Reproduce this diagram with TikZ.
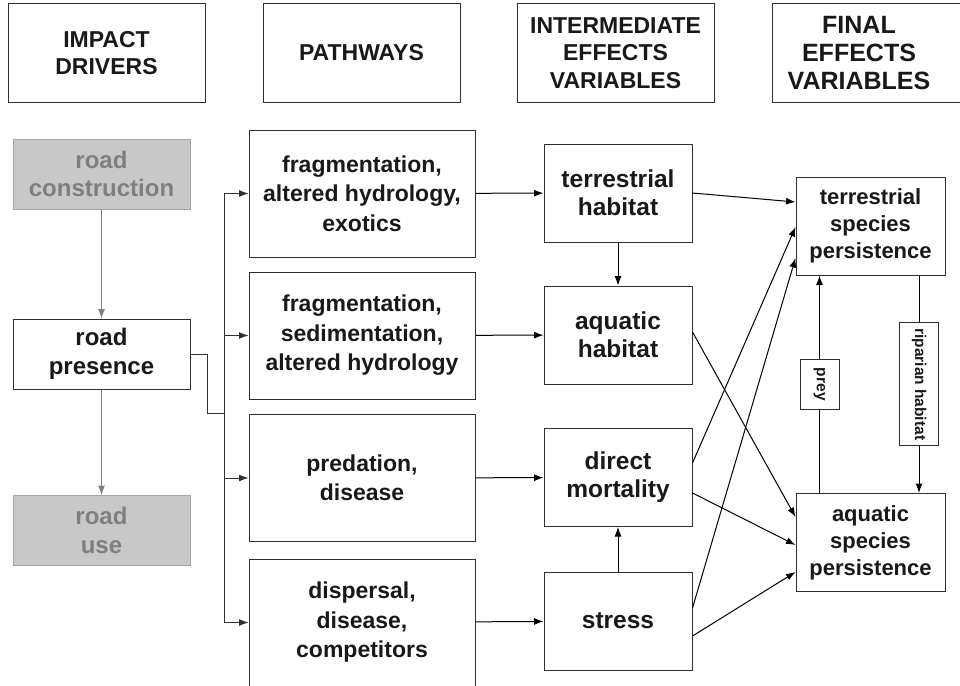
\documentclass[tikz,border=0pt]{standalone}
\usepackage{fontspec}
\setmainfont{Liberation Sans}
\usetikzlibrary{arrows.meta}
\definecolor{roadfill}{HTML}{C8C8C8}
\definecolor{roadtext}{HTML}{7F7F7F}
\definecolor{roadline}{HTML}{A6A6A6}
\definecolor{boxline}{HTML}{303030}

\begin{document}
\begin{tikzpicture}[x=1pt, y=-1pt, line width=1pt, >={Latex[length=9.5pt,width=7pt]}]
	\tikzstyle{box}    = [rectangle, draw=boxline, fill=white, inner sep=0pt, align=center,
	                      font=\fontsize{22}{27}\selectfont\bfseries, text=black!90]
	\tikzstyle{header} = [box, minimum height=98pt, font=\fontsize{23}{27.5}\selectfont\bfseries]
	\tikzstyle{road}   = [box, minimum width=177pt, minimum height=70pt, font=\fontsize{24}{28.5}\selectfont\bfseries]
	\tikzstyle{grey}   = [road, fill=roadfill, draw=roadline, text=roadtext]
	\tikzstyle{path}   = [box, minimum width=226pt, minimum height=127pt, font=\fontsize{23}{29.5}\selectfont\bfseries]
	\tikzstyle{inter}  = [box, minimum width=148pt, minimum height=98pt, font=\fontsize{24.5}{28}\selectfont\bfseries]
	\tikzstyle{final}  = [box, minimum width=149pt, minimum height=98pt]
	\tikzstyle{tag}    = [box, rotate=-90, minimum height=39pt, font=\fontsize{15.5}{18}\selectfont\bfseries]

	\useasboundingbox (0,0) rectangle (960,685);

	% column headers
	\foreach \name/\x/\txt in {hd1/106.5/{IMPACT\\DRIVERS}, hd2/361.5/{PATHWAYS},
		hd3/615.5/{INTERMEDIATE\\EFFECTS\\VARIABLES}}
		\node[header, minimum width=197pt] (\name) at (\x, 53) {\txt};
	\node[header, minimum width=194pt, font=\fontsize{25}{28}\selectfont\bfseries] (hd4) at (869, 53)
		{FINAL\kern20pt\\EFFECTS\kern20pt\\VARIABLES\kern20pt};

	% impact drivers
	\node[grey] (rc) at (101.5, 174) {road\\construction};
	\node[road] (rp) at (101.5, 354) {road\\presence};
	\node[grey] (ru) at (101.5, 530.5) {road\\use};

	\draw[->, roadtext] (rc) -- (rp);
	\draw[->, roadtext] (rp) -- (ru);

	% pathways
	\foreach \name/\y/\txt in {p1/193.5/{fragmentation,\\altered hydrology,\\exotics},
		p2/335.5/{fragmentation,\\sedimentation,\\altered hydrology},
		p3/478/{predation,\\disease}, p4/622.5/{dispersal,\\disease,\\competitors}}
		\node[path] (\name) at (362, \y) {\txt};

	\coordinate (bend) at (207, 413);
	\coordinate (trunk) at (224, 413);
	\draw[boxline] (rp.east) -| (bend) -- (trunk);
	\foreach \to in {p1, p2, p3, p4}
		\draw[->, boxline] (trunk) |- (\to.west);

	% intermediate effects
	\foreach \name/\y/\txt in {it/193/{terrestrial\\habitat}, ia/335/{aquatic\\habitat},
		id/477.5/{direct\\mortality}, is/621/{stress}}
		\node[inter] (\name) at (618, \y) {\txt};

	\foreach \from/\to in {p1/it, p2/ia, p3/id, p4/is}
		\draw[->] (\from) -- (\to);
	\draw[->] (it) -- (ia);
	\draw[->] (is) -- (id);

	% final effects
	\node[final] (ft) at (870.5, 226) {terrestrial\\species\\persistence};
	\node[final] (fa) at (870.5, 542.5) {aquatic\\species\\persistence};

	\foreach \from/\fs/\to/\ts in {it/0/ft/24, ia/3/fa/25.5, id/14.5/ft/-1,
		id/-15.5/fa/-2.5, is/13/ft/-32, is/-15/fa/-29.5}
		\draw[->] ([yshift=\fs pt]\from.east) -- ([yshift=\ts pt]\to.west);

	\draw[->] ([xshift=-51pt]fa.north) -- node[tag, minimum width=50pt] (prey) {prey} ([xshift=-51pt]ft.south);
	\draw[->] ([xshift=48.5pt]ft.south) -- node[tag, minimum width=123pt] (rip) {riparian habitat} ([xshift=48.5pt]fa.north);
\end{tikzpicture}
\end{document}
